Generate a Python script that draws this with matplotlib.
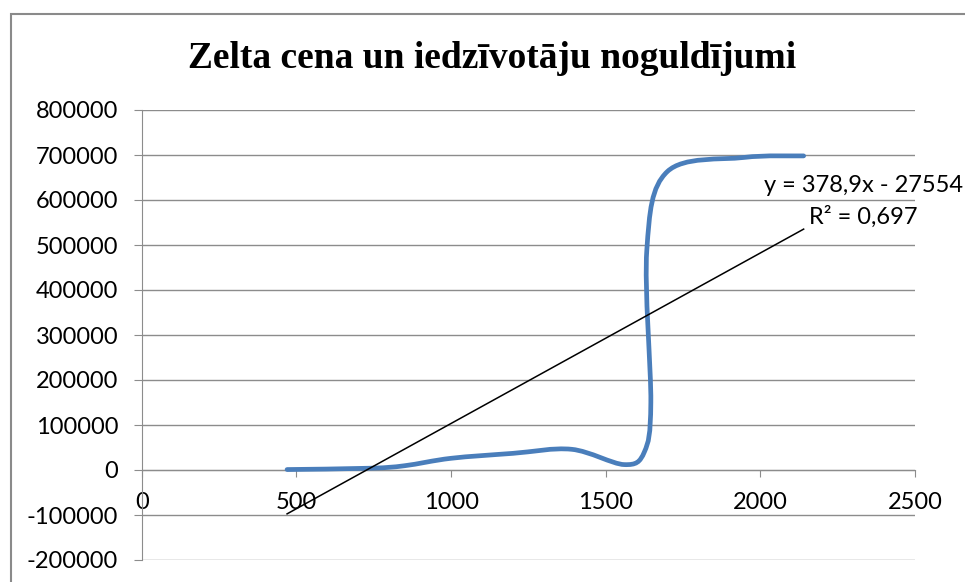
import numpy as np
import matplotlib.pyplot as plt
from matplotlib.path import Path
from matplotlib.patches import PathPatch, Rectangle

# gold price vs. household deposits
gold_price = [470, 740, 850, 1000, 1200, 1390, 1560, 1625, 1646, 1633, 1699, 1946, 2140]
deposits = [1000, 4000, 9500, 26000, 37000, 46000, 12000, 40000, 150000, 489000, 663000, 694500, 698000]

# linear trendline shown by Excel
trend_slope = 378.9
trend_intercept = -275540
trend_eq = "y = 378,9x - 27554"
trend_r2 = "R² = 0,697"

x_ticks = [0, 500, 1000, 1500, 2000, 2500]
y_ticks = list(range(-200000, 800001, 100000))

title = "Zelta cena un iedzīvotāju noguldījumi"


# smooth line like Excel's "scatter with smooth lines"
def smooth_path(xs, ys):
    pts = np.column_stack([xs, ys]).astype(float)
    n = len(pts)
    verts = [pts[0]]
    codes = [Path.MOVETO]
    for i in range(n - 1):
        p0 = pts[i - 1] if i > 0 else pts[i]
        p1 = pts[i]
        p2 = pts[i + 1]
        p3 = pts[i + 2] if i + 2 < n else pts[i + 1]
        verts += [p1 + (p2 - p0) / 6, p2 - (p3 - p1) / 6, p2]
        codes += [Path.CURVE4] * 3
    return Path(verts, codes)


plt.rcParams['font.family'] = ['Lato', 'DejaVu Sans']
grid_col = '#8c8c8c'

fig = plt.figure(figsize=(9.65, 5.82), dpi=100)
W, H = 965, 582
ax = fig.add_axes([141.7 / W, 1 - 560 / H, (915 - 141.7) / W, (560 - 110) / H])

# chart border
fig.patches.append(Rectangle((11 / W, -0.1), 1.2, 1 - 14 / H + 0.1, transform=fig.transFigure,
                             fill=False, edgecolor='#8a8a8a', lw=1.5))

ax.set_xlim(0, 2500)
ax.set_ylim(-200000, 800000)
ax.set_xticks(x_ticks)
ax.set_yticks(y_ticks)
ax.set_xticklabels([str(v) for v in x_ticks])
ax.set_yticklabels([str(v) for v in y_ticks])

ax.grid(axis='y', color=grid_col, lw=1)
ax.set_axisbelow(True)
for s in ['top', 'right']:
    ax.spines[s].set_visible(False)
ax.spines['bottom'].set_position(('data', 0))
ax.spines['bottom'].set_color(grid_col)
ax.spines['left'].set_color(grid_col)
ax.tick_params(axis='y', direction='out', length=6, color=grid_col, labelsize=17, pad=11)
ax.tick_params(axis='x', direction='out', length=5, color=grid_col, labelsize=17, pad=11)

# data curve
ax.add_patch(PathPatch(smooth_path(gold_price, deposits), fill=False,
                       edgecolor='#4a7ebb', lw=3.4, capstyle='round', zorder=3))

# trendline
tx = np.array([min(gold_price), max(gold_price)])
ax.plot(tx, trend_slope * tx + trend_intercept, color='black', lw=1.1, zorder=4)
fig.text(863 / W, 1 - 192 / H, trend_eq, ha='center', va='baseline', fontsize=17)
fig.text(863 / W, 1 - 224 / H, trend_r2, ha='center', va='baseline', fontsize=17)

fig.text(492 / W, 1 - 68 / H, title, ha='center', va='baseline', fontsize=27,
         fontweight='bold', family='Liberation Serif')

fig.savefig('out.png', dpi=100)
